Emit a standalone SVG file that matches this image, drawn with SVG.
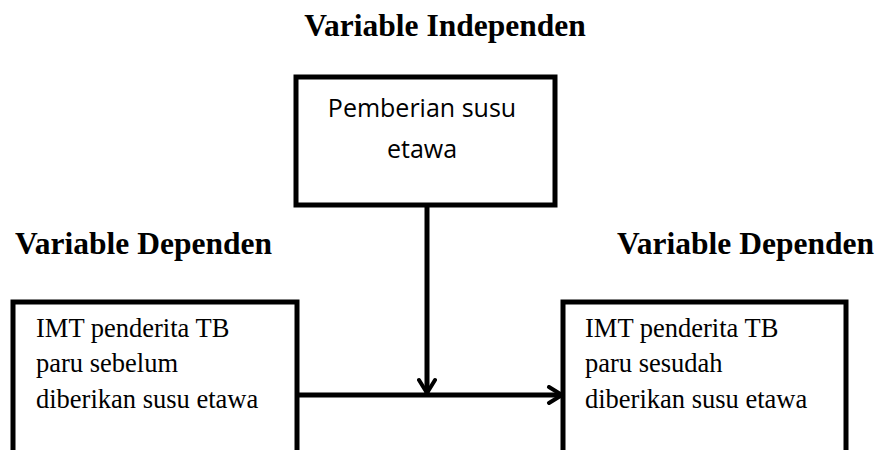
<svg xmlns="http://www.w3.org/2000/svg" width="880" height="450" viewBox="0 0 880 450">
<defs>
<style>
.title{font-family:"Liberation Serif","Times New Roman",serif;font-weight:bold;font-size:31.5px;fill:#000}
.box{fill:#fff;stroke:#000;stroke-width:5}
.cal{font-family:"Open Sans","Liberation Sans",sans-serif;font-size:25px;fill:#000;text-anchor:middle}
.tnr{font-family:"Liberation Serif","Times New Roman",serif;font-size:26.5px;fill:#000}
.conn{fill:none;stroke:#000;stroke-width:5}
</style>
<marker id="arr" viewBox="0 0 20 20" refX="17" refY="10" markerWidth="20" markerHeight="20" markerUnits="userSpaceOnUse" orient="auto">
<path d="M4,2 L17,10 L4,18" fill="none" stroke="#000" stroke-width="4" stroke-linecap="round" stroke-linejoin="round"/>
</marker>
</defs>
<g id="titles">
<text class="title" x="445" y="36" text-anchor="middle">Variable Independen</text>
<text class="title" x="15" y="254">Variable Dependen</text>
<text class="title" x="617" y="254">Variable Dependen</text>
</g>
<g id="node-independen">
<rect class="box" x="296" y="77" width="259" height="128"/>
<text class="cal" x="422" y="117">Pemberian susu</text>
<text class="cal" x="422" y="158">etawa</text>
</g>
<g id="node-sebelum">
<rect class="box" x="13" y="302" width="284" height="160"/>
<text class="tnr" x="36" y="337">IMT penderita TB</text>
<text class="tnr" x="36" y="372">paru sebelum</text>
<text class="tnr" x="36" y="408">diberikan susu etawa</text>
</g>
<g id="node-sesudah">
<rect class="box" x="563" y="302" width="283" height="160"/>
<text class="tnr" x="585" y="337">IMT penderita TB</text>
<text class="tnr" x="585" y="372">paru sesudah</text>
<text class="tnr" x="585" y="408">diberikan susu etawa</text>
</g>
<g id="connectors">
<line class="conn" x1="427" y1="205" x2="427" y2="393" marker-end="url(#arr)"/>
<line class="conn" x1="297" y1="395" x2="562" y2="395" marker-end="url(#arr)"/>
</g>
</svg>
